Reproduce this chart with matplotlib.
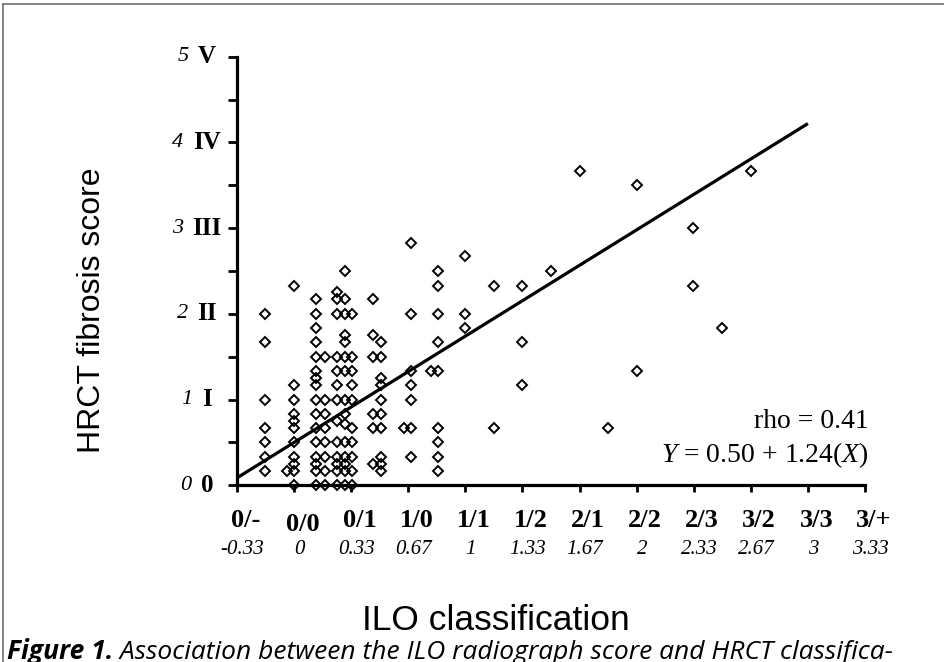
import matplotlib
matplotlib.use("Agg")
import matplotlib.pyplot as plt
from matplotlib.lines import Line2D

plt.rcParams['mathtext.fontset'] = 'custom'
plt.rcParams['mathtext.rm'] = 'Liberation Serif'
plt.rcParams['mathtext.it'] = 'Liberation Serif:italic'
plt.rcParams['mathtext.bf'] = 'Liberation Serif:bold'

# ILO score (x) and HRCT fibrosis score (y), one column per line
ilo = [-0.17, -0.17, -0.17, -0.17, -0.17, -0.17, -0.17,
       -0.04,
       0.0, 0.0, 0.0, 0.0, 0.0, 0.0, 0.0, 0.0, 0.0, 0.0, 0.0,
       0.13, 0.13, 0.13, 0.13, 0.13, 0.13, 0.13, 0.13, 0.13, 0.13, 0.13, 0.13, 0.13, 0.13, 0.13, 0.13,
       0.18, 0.18, 0.18, 0.18, 0.18, 0.18, 0.18, 0.18,
       0.25, 0.25, 0.25, 0.25, 0.25, 0.25, 0.25, 0.25, 0.25, 0.25, 0.25, 0.25, 0.25,
       0.30, 0.30, 0.30, 0.30, 0.30, 0.30, 0.30, 0.30, 0.30, 0.30, 0.30, 0.30, 0.30, 0.30, 0.30,
       0.34, 0.34, 0.34, 0.34, 0.34, 0.34, 0.34, 0.34, 0.34, 0.34,
       0.46, 0.46, 0.46, 0.46, 0.46, 0.46,
       0.51, 0.51, 0.51, 0.51, 0.51, 0.51, 0.51, 0.51, 0.51, 0.51,
       0.64,
       0.68, 0.68, 0.68, 0.68, 0.68, 0.68, 0.68,
       0.80,
       0.84, 0.84, 0.84, 0.84, 0.84, 0.84, 0.84, 0.84, 0.84,
       1.0, 1.0, 1.0,
       1.17, 1.17,
       1.33, 1.33, 1.33,
       1.5,
       1.67,
       1.83,
       2.0, 2.0,
       2.33, 2.33,
       2.5,
       2.67]
hrct = [2.0, 1.67, 1.0, 0.67, 0.5, 0.33, 0.17,
        0.17,
        2.33, 1.17, 1.0, 0.83, 0.75, 0.67, 0.5, 0.33, 0.25, 0.17, 0.0,
        2.17, 2.0, 1.83, 1.67, 1.5, 1.33, 1.25, 1.17, 1.0, 0.83, 0.67, 0.5, 0.33, 0.25, 0.17, 0.0,
        1.5, 1.0, 0.83, 0.67, 0.5, 0.33, 0.17, 0.0,
        2.25, 2.17, 2.0, 1.5, 1.33, 1.17, 1.0, 0.75, 0.5, 0.33, 0.25, 0.17, 0.0,
        2.5, 2.17, 2.0, 1.75, 1.67, 1.5, 1.33, 1.0, 0.83, 0.72, 0.5, 0.33, 0.25, 0.17, 0.0,
        2.0, 1.5, 1.33, 1.17, 1.0, 0.67, 0.5, 0.33, 0.17, 0.0,
        2.17, 1.75, 1.5, 0.83, 0.67, 0.25,
        1.67, 1.5, 1.25, 1.17, 1.0, 0.83, 0.67, 0.33, 0.25, 0.17,
        0.67,
        2.83, 2.0, 1.33, 1.17, 1.0, 0.67, 0.33,
        1.33,
        2.5, 2.33, 2.0, 1.67, 1.33, 0.67, 0.5, 0.33, 0.17,
        2.67, 2.0, 1.83,
        2.33, 0.67,
        2.33, 1.67, 1.17,
        2.5,
        3.67,
        0.67,
        3.5, 1.33,
        3.0, 2.33,
        1.83,
        3.67]

# regression line Y = 0.50 + 1.24(X)
fit_a = 0.50
fit_b = 1.24
fit_x = [-1/3, 3.0]

x_ticks = [-1/3, 0, 1/3, 2/3, 1, 4/3, 5/3, 2, 7/3, 8/3, 3, 10/3]
x_names = ['0/-', '0/0', '0/1', '1/0', '1/1', '1/2', '2/1', '2/2', '2/3', '3/2', '3/3', '3/+']
x_nums = ['-0.33', '0', '0.33', '0.67', '1', '1.33', '1.67', '2', '2.33', '2.67', '3', '3.33']
y_ticks = [0, 1, 2, 3, 4, 5]
y_roman = ['0', 'I', 'II', 'III', 'IV', 'V']

fig = plt.figure(figsize=(9.45, 6.62), dpi=100)
ax = fig.add_axes([237/945, (662-485.3)/662, (865-237)/945, (485.3-56.7)/662])

ax.plot(fit_x, [fit_a + fit_b*v for v in fit_x], color='black', lw=2.3,
        solid_capstyle='butt', clip_on=False, zorder=2)
ax.plot(ilo, hrct, 'D', ms=5.0, mfc='none', mec='black', mew=1.4,
        clip_on=False, zorder=3)

ax.set_xlim(-1/3, 10/3)
ax.set_ylim(0, 5)
for s in ['top', 'right']:
    ax.spines[s].set_visible(False)
for s in ['left', 'bottom']:
    ax.spines[s].set_linewidth(2.3)
    ax.spines[s].set_capstyle('projecting')

ax.set_xticks(x_ticks)
ax.set_xticklabels([])
ax.tick_params(axis='x', direction='out', length=5, width=2)
ax.set_yticks(y_ticks)
ax.set_yticks([0.5, 1.5, 2.5, 3.5, 4.5], minor=True)
ax.set_yticklabels([])
ax.tick_params(axis='y', which='both', direction='out', length=6.5, width=2)

# y labels: bold roman grade with the italic score to its left
for v, r in zip(y_ticks, y_roman):
    rom = ax.annotate(r, xy=(0, v), xycoords=('axes fraction', 'data'),
                      xytext=(-21.5, 0), textcoords='offset points', ha='center', va='center',
                      fontsize=18, fontweight='bold', family='Liberation Serif',
                      annotation_clip=False)
    ax.annotate(str(v), xy=(0, 0.5), xycoords=rom, xytext=(-7, 0),
                textcoords='offset points', ha='right', va='center',
                fontsize=16, style='italic', family='Liberation Serif')

# x labels: bold ILO category and italic score underneath
for xv, name, num in zip(x_ticks, x_names, x_nums):
    dy = -28 if name == '0/0' else -25
    ax.annotate(name, xy=(xv, 0), xycoords=('data', 'axes fraction'),
                xytext=(6, dy), textcoords='offset points', ha='center', va='center',
                fontsize=19, fontweight='bold', family='Liberation Serif')
    ax.annotate(num, xy=(xv, 0), xycoords=('data', 'axes fraction'),
                xytext=(4, -46), textcoords='offset points', ha='center', va='center',
                fontsize=15, style='italic', family='Liberation Serif')

ax.text(1.006, 0.134, 'rho = 0.41', transform=ax.transAxes, ha='right', va='baseline',
        fontsize=20, family='Liberation Serif')
ax.text(1.006, 0.055, r'$Y$ = 0.50 + 1.24($X$)', transform=ax.transAxes, ha='right',
        va='baseline', fontsize=20, family='Liberation Serif')

fig.text(92/945, 1 - 310/662, 'HRCT fibrosis score', rotation=90, ha='center', va='center',
         fontsize=23, family='Liberation Sans')
fig.text(496/945, (662-630)/662, 'ILO classification', ha='center', va='baseline',
         fontsize=25.5, family='Liberation Sans')

t1 = fig.text(7/945, 3/662, 'Figure 1.', fontsize=19, family='Open Sans',
              style='italic', fontweight='bold', va='baseline')
ax.annotate(' Association between the ILO radiograph score and HRCT classifica-',
            xy=(1, 0), xycoords=t1, ha='left', va='bottom', fontsize=19,
            family='Open Sans', style='italic', annotation_clip=False)

# thin frame around the figure panel
fig.add_artist(Line2D([3/945, 1], [658/662, 658/662], color='#6e6e6e', lw=1.2))
fig.add_artist(Line2D([3/945, 3/945], [0, 658/662], color='#6e6e6e', lw=1.2))

fig.savefig('out.png', dpi=100)
